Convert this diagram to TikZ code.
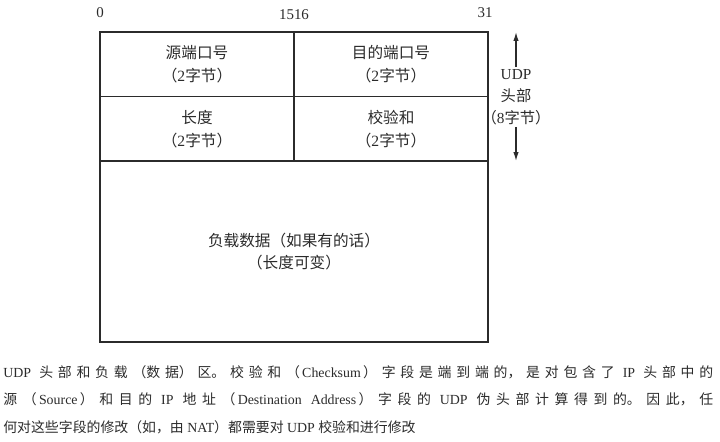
\documentclass[tikz,border=0pt]{standalone}
\usepackage{fontspec}
\usepackage{tikz}
\usetikzlibrary{arrows.meta,positioning}
\setmainfont{Liberation Serif}
\newfontfamily\cjk{Noto Sans CJK SC}
\newcommand{\zh}[1]{{\cjk #1}}
\XeTeXlinebreaklocale "zh"
\XeTeXlinebreakskip=0pt plus 1pt
\definecolor{ink}{HTML}{2B2B2B}

\begin{document}
\begin{tikzpicture}[x=0.02cm,y=-0.02cm,text=ink,
  cell/.style={draw=ink,line width=0.75pt,minimum width=3.88cm,minimum height=1.29cm,
               align=center,inner sep=0pt,font=\fontsize{8.9}{13}\selectfont},
  bitno/.style={font=\fontsize{8.5}{10}\selectfont,inner sep=0pt},
  caption/.style={anchor=north west,inner sep=0pt,text width=14.2cm,align=justify,
                  font=\fontsize{7.9}{15.6}\selectfont},
  span/.style={draw=ink,line width=0.7pt,-{Latex[length=5pt,width=3pt]}}]
\useasboundingbox (0,0) rectangle (720,441);

% bit numbers
\node[bitno] (b0) at (100,13) {0};
\node[bitno] (b15) at (294,15) {1516};
\node[bitno] (b31) at (485,13) {31};

% header fields
\node[cell] (srcport) at (197,64.25) {\zh{源端口号}\\\zh{（}2\zh{字节）}};
\node[cell] (dstport) at (391,64.25) {\zh{目的端口号}\\\zh{（}2\zh{字节）}};
\node[cell] (length) at (197,128.75) {\zh{长度}\\\zh{（}2\zh{字节）}};
\node[cell] (checksum) at (391,128.75) {\zh{校验和}\\\zh{（}2\zh{字节）}};
\node[cell,minimum width=7.76cm,minimum height=3.62cm] (payload) at (294,251.5)
  {\zh{负载数据（如果有的话）}\\\zh{（长度可变）}};

% header size
\node[align=center,inner sep=1pt,font=\fontsize{8.7}{12.5}\selectfont] (hdr) at (516,97)
  {UDP\\\zh{头部}\\\zh{（}8\zh{字节）}};
\coordinate (hdrtop) at (516,32);
\coordinate (hdrbot) at (516,161);
\draw[span] (hdr.north) -- (hdrtop);
\draw[span] (hdr.south) -- (hdrbot);

% caption
\node[caption] (cap) at (3,365.2) {UDP \zh{头部和负载（数据）区。校验和（}\,Checksum\,\zh{）字段是端到端的，是对包含了} IP \zh{头部中的}\linebreak
\zh{源（}\,Source\,\zh{）和目的} IP \zh{地址（}\,Destination Address\,\zh{）字段的} UDP \zh{伪头部计算得到的。因此，任}\linebreak
\zh{何对这些字段的修改（如，由} NAT\zh{）都需要对} UDP \zh{校验和进行修改}};
\end{tikzpicture}
\end{document}
